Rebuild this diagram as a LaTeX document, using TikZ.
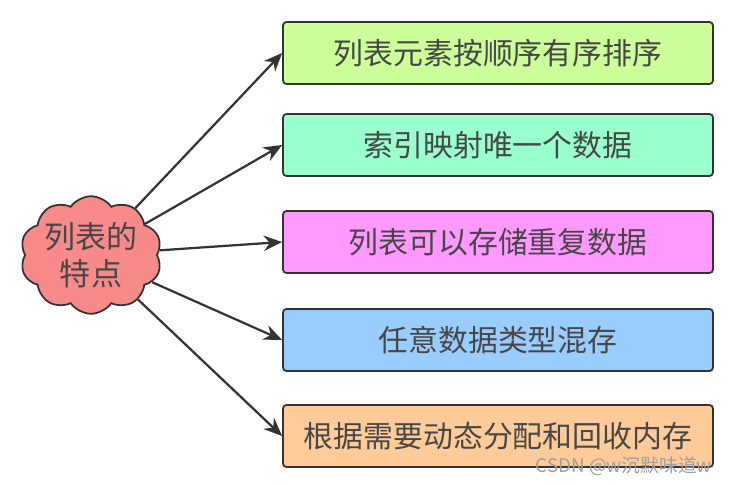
\documentclass[tikz,border=0pt]{standalone}
\usepackage{fontspec}
\setmainfont{Noto Sans CJK SC}
\usetikzlibrary{shapes.symbols,arrows.meta}
\definecolor{cloudred}{HTML}{F98A8A}
\definecolor{boxlime}{HTML}{CCFF99}
\definecolor{boxmint}{HTML}{99FFCC}
\definecolor{boxpink}{HTML}{FF99FF}
\definecolor{boxblue}{HTML}{99CCFF}
\definecolor{boxpeach}{HTML}{FFCC99}
\definecolor{edge}{HTML}{333333}
\tikzset{
  feature/.style={draw=edge,line width=1.5pt,rounded corners=3pt,minimum width=129mm,
    minimum height=18.6mm,font=\fontsize{25.5}{30}\selectfont,text=edge!90},
  topic/.style={cloud,cloud puffs=10,cloud puff arc=110,aspect=1.3,draw=edge,line width=1.5pt,
    fill=cloudred,minimum width=37mm,minimum height=28mm,inner sep=0pt,align=center,
    font=\fontsize{26.5}{32}\selectfont,text=edge!90},
  link/.style={draw=edge,line width=1.9pt,-{Stealth[length=5.5mm,width=4.6mm]}}
}
\begin{document}
\begin{tikzpicture}[x=0.3mm,y=-0.3mm]
	\useasboundingbox (0,0) rectangle (729,484);
		\node[topic] (list) at (91,255) {列表的\\特点};
		\node[feature,fill=boxlime] (f1) at (498,53) {列表元素按顺序有序排序};
		\node[feature,fill=boxmint] (f2) at (498,145) {索引映射唯一个数据};
		\node[feature,fill=boxpink] (f3) at (498,242) {列表可以存储重复数据};
		\node[feature,fill=boxblue] (f4) at (498,340) {任意数据类型混存};
		\node[feature,fill=boxpeach] (f5) at (498,436) {根据需要动态分配和回收内存};
	\draw[link] (list) -- (f1.west);
	\draw[link] (list) -- (f2.west);
	\draw[link] (list) -- (f3.west);
	\draw[link] (list) -- (f4.west);
	\draw[link] (list) -- (f5.west);
		\node[anchor=east,text=gray!75,font=\fontsize{16}{18}\selectfont] (mark) at (716,466) {CSDN @w沉默味道w};
\end{tikzpicture}
\end{document}
